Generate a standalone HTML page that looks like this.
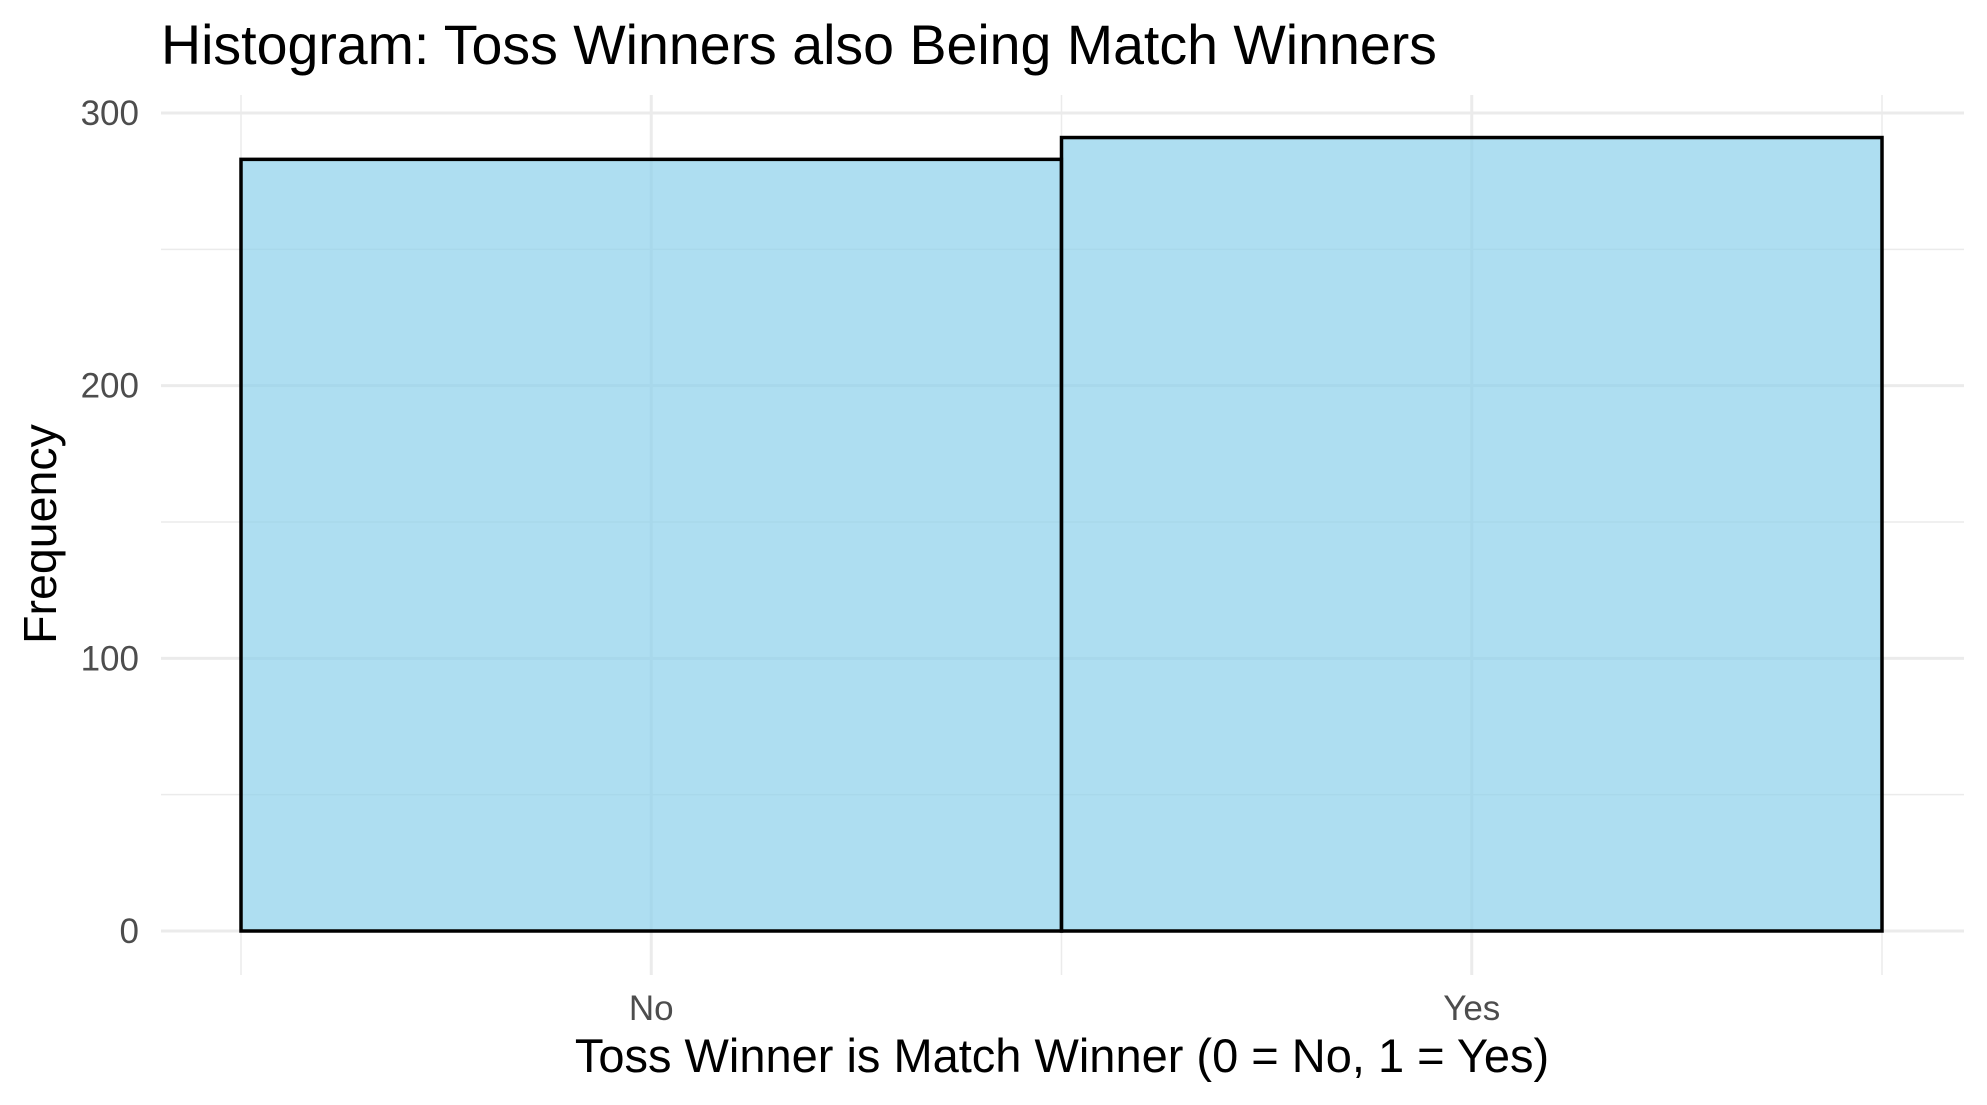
<!DOCTYPE html>
<html><head><meta charset="utf-8"><style>
body{margin:0;background:#fff;}
svg{display:block;font-family:"Liberation Sans",Arial,sans-serif;}
</style></head><body>
<svg id="chart" width="1987" height="1105" viewBox="0 0 1987 1105">
<text x="161" y="64" font-size="55.5" fill="#000">Histogram: Toss Winners also Being Match Winners</text>
<g id="grid"></g>
<g id="bars"></g>
<g id="yticks"></g>
<g id="xticks"></g>
<text x="0" y="0" transform="translate(56,534) rotate(-90)" text-anchor="middle" font-size="46.5" fill="#000">Frequency</text>
<text x="1062" y="1072" text-anchor="middle" font-size="47" fill="#000">Toss Winner is Match Winner (0 = No, 1 = Yes)</text>
</svg>
<script>
const categories = ["No", "Yes"];
const counts = [283, 291];
const yTicks = [0, 100, 200, 300];
const yMinor = [50, 150, 250];

const ns = "http://www.w3.org/2000/svg";
const plotL = 161, plotR = 1964;
const y0px = 931, y300px = 113;
const yS = v => y0px + (y0px - y300px) * (-v / 300);
const barL = 241, barW = 820.5;
const xL = i => barL + i * barW;
const xC = i => barL + (i + 0.5) * barW;

function mk(tag, attrs, parent) {
  const e = document.createElementNS(ns, tag);
  for (const k in attrs) e.setAttribute(k, attrs[k]);
  parent.appendChild(e);
  return e;
}
const grid = document.getElementById('grid');
yMinor.forEach(v => {
  const l = mk('line', {x1: plotL, x2: plotR, y1: yS(v), y2: yS(v), stroke: '#ebebeb', 'stroke-width': 1.5}, grid);
  
  
});
yTicks.forEach(v => {
  const l = mk('line', {x1: plotL, x2: plotR, y1: yS(v), y2: yS(v), stroke: '#ebebeb', 'stroke-width': 3}, grid);
  
  
});
for (let i = 0; i <= categories.length; i++) {
  const l = mk('line', {x1: xL(i), x2: xL(i), y1: 95, y2: 975, stroke: '#ebebeb', 'stroke-width': 1.5}, grid);
  
  
}
categories.forEach((c, i) => {
  const l = mk('line', {x1: xC(i), x2: xC(i), y1: 95, y2: 975, stroke: '#ebebeb', 'stroke-width': 3}, grid);
  
  
});
const bars = document.getElementById('bars');
counts.forEach((v, i) => {
  const r = mk('rect', {x: xL(i), y: yS(v), width: barW, height: yS(0) - yS(v), fill: '#87ceeb', 'fill-opacity': 0.68, stroke: '#000', 'stroke-width': 3.5}, bars);
  
  
});
const yt = document.getElementById('yticks');
yTicks.forEach(v => {
  const t = mk('text', {x: 139, y: yS(v) + 12, 'text-anchor': 'end', 'font-size': 35, fill: '#4d4d4d'}, yt);
  t.textContent = v;
  
  
});
const xt = document.getElementById('xticks');
categories.forEach((c, i) => {
  const t = mk('text', {x: xC(i), y: 1020, 'text-anchor': 'middle', 'font-size': 35, fill: '#4d4d4d'}, xt);
  t.textContent = c;
  
  
});
</script>
</body></html>
